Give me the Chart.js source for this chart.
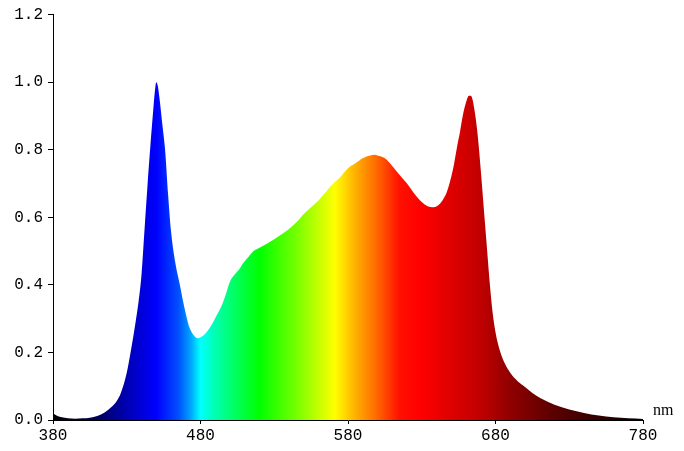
<!DOCTYPE html>
<html>
<head>
<meta charset="utf-8">
<script src="https://cdn.jsdelivr.net/npm/chart.js@4.4.0/dist/chart.umd.min.js"></script>
<style>
  html, body { margin: 0; padding: 0; background: #fff; }
  #wrap { width: 684px; height: 451px; }
</style>
</head>
<body>
<div id="wrap"><canvas id="myChart" width="684" height="451"></canvas></div>
<script>
// wavelength (nm) and relative intensity
const wavelength = [380,383,386,390,395,400,405,410,415,420,423,426,430,433,436,438,440,442,444,446,448,449,450,451,452,454,456,458,460,462,464,466,468,470,472,474,476,478,480,482,485,488,491,494,497,500,503,506,509,512,516,520,525,530,535,540,545,550,555,560,565,570,575,580,585,590,595,598,600,605,610,615,620,625,630,634,638,641,644,647,650,652,654,656,658,660,662,663,664,666,668,670,672,674,676,678,680,683,686,690,695,700,705,710,720,730,740,750,760,770,780];
const intensity = [0.02,0.012,0.008,0.005,0.004,0.005,0.007,0.012,0.022,0.04,0.055,0.08,0.14,0.21,0.29,0.35,0.43,0.56,0.69,0.81,0.92,0.97,1.0,0.99,0.96,0.88,0.80,0.67,0.56,0.49,0.44,0.40,0.355,0.315,0.28,0.26,0.248,0.242,0.245,0.25,0.265,0.285,0.31,0.335,0.37,0.41,0.43,0.445,0.465,0.48,0.50,0.51,0.522,0.535,0.55,0.565,0.585,0.61,0.63,0.65,0.675,0.70,0.72,0.745,0.76,0.775,0.783,0.785,0.783,0.775,0.752,0.725,0.70,0.67,0.645,0.633,0.63,0.635,0.65,0.675,0.72,0.76,0.81,0.855,0.905,0.94,0.96,0.96,0.955,0.91,0.84,0.74,0.63,0.52,0.41,0.32,0.26,0.205,0.17,0.14,0.115,0.098,0.08,0.066,0.045,0.031,0.021,0.013,0.008,0.005,0.003];
const xTicks = [380, 480, 580, 680, 780];
const yTicks = [0, 0.2, 0.4, 0.6, 0.8, 1.0, 1.2];

// colour of the fill along the wavelength axis
const spectrumStops = [
  [380, '#000000'], [410, '#00005a'], [430, '#0000b4'], [450, '#0000ff'],
  [465, '#0050ff'], [473, '#00a0ff'], [480, '#00ffff'], [490, '#00ffb0'],
  [520, '#00ff00'], [547, '#80ff00'], [571, '#ffff00'], [585, '#ffb000'],
  [598, '#ff7000'], [615, '#ff1000'], [629, '#ff0000'], [649, '#e00000'],
  [670, '#c00000'], [690, '#900000'], [717, '#600000'], [751, '#300000'],
  [780, '#000000']
];

function spectrumFill(context) {
  const chart = context.chart;
  if (!chart.chartArea) return '#0000ff';
  const xs = chart.scales.x;
  const x0 = xs.getPixelForValue(380), x1 = xs.getPixelForValue(780);
  const g = chart.ctx.createLinearGradient(x0, 0, x1, 0);
  spectrumStops.forEach(s => g.addColorStop((s[0] - 380) / 400, s[1]));
  return g;
}

const nmLabel = {
  id: 'nmLabel',
  afterDraw(chart) {
    const ctx = chart.ctx;
    ctx.save();
    ctx.font = '16px "Liberation Serif"';
    ctx.fillStyle = '#000';
    ctx.textBaseline = 'bottom';
    ctx.fillText('nm', chart.chartArea.right + 10, chart.chartArea.bottom - 1);
    ctx.restore();
  }
};

const tickFont = { family: '"Liberation Mono", monospace', size: 16 };

const data = {
  datasets: [{
    data: wavelength.map((w, i) => ({ x: w, y: intensity[i] })),
    backgroundColor: spectrumFill,
    borderWidth: 0,
    pointRadius: 0,
    fill: 'origin',
    cubicInterpolationMode: 'monotone'
  }]
};

const config = {
  type: 'line',
  data,
  plugins: [nmLabel],
  options: {
    responsive: false,
    animation: false,
    layout: { padding: { left: 0, top: 14, right: 41, bottom: 0 } },
    plugins: { legend: { display: false }, tooltip: { enabled: false } },
    scales: {
      x: {
        type: 'linear',
        min: 380,
        max: 780,
        afterBuildTicks: s => { s.ticks = xTicks.map(v => ({ value: v })); },
        afterFit: s => { s.height = 31; },
        grid: { drawOnChartArea: false, drawTicks: true, tickLength: 4, color: '#000' },
        border: { color: '#000', width: 1 },
        ticks: { color: '#000', font: tickFont, padding: 2, maxRotation: 0 }
      },
      y: {
        type: 'linear',
        min: 0,
        max: 1.2,
        afterBuildTicks: s => { s.ticks = yTicks.map(v => ({ value: v })); },
        afterFit: s => { s.width = 53; },
        grid: { drawOnChartArea: false, drawTicks: true, tickLength: 5, color: '#000' },
        border: { color: '#000', width: 1 },
        ticks: { color: '#000', font: tickFont, padding: 5, callback: v => v.toFixed(1) }
      }
    }
  }
};

const myChart = new Chart(document.getElementById('myChart'), config);
</script>
</body>
</html>
